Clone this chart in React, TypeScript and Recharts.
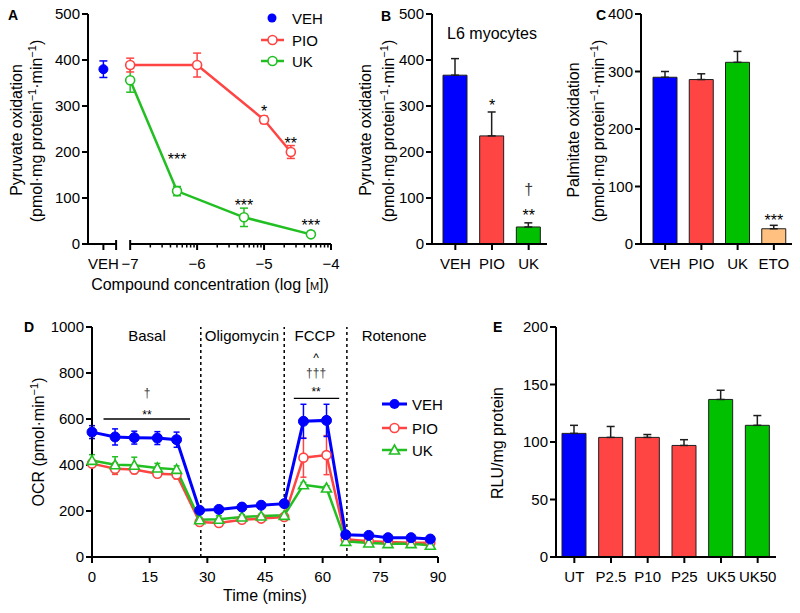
import React from 'react';
import { ComposedChart, Line, Bar, XAxis, YAxis, ErrorBar, ReferenceLine, Cell } from 'recharts';

const FONT = '"Liberation Sans", Arial, Helvetica, sans-serif';
const BLUE = '#0000FF';
const RED = '#FF4444';
const GREEN = '#00C000';
const LGREEN = '#22BF22';
const ORANGE = '#FFC080';
const EDGE = '#1E1E1E';

// ---------- Panel A ----------
const A_VEH_X = [-7.4];
const A_VEH_Y = [380];
const A_VEH_ERR = [18];
const A_PIO_X = [-7, -6, -5, -4.6];
const A_PIO_Y = [389, 389, 270, 200];
const A_PIO_ERR = [15, 26, 8, 14];
const A_UK_X = [-7, -6.3, -5.3, -4.3];
const A_UK_Y = [356, 115, 58, 21];
const A_UK_ERR = [26, 10, 20, 3];
const A_SIG_X = [-5, -4.6, -6.3, -5.3, -4.3];
const A_SIG_Y = [297, 226, 192, 92, 49];
const A_SIG_TEXT = ['*', '**', '***', '***', '***'];
const A_Y_TICKS = [0, 100, 200, 300, 400, 500];
const A_X_MAJOR = [-7, -6, -5, -4];
const A_X_MAJOR_LABELS = ['−7', '−6', '−5', '−4'];
const A_VEH_TICK_LABEL = 'VEH';
const A_X_DOMAIN = [-7.63, -4];
const A_BREAK = [-7.21, -7];
const A_X_MINOR = [-7, -6, -5].flatMap((d) => [2, 3, 4, 5, 6, 7, 8, 9].map((k) => d + Math.log10(k)));
const A_TICKS = [A_VEH_X[0], A_BREAK[0], ...A_X_MAJOR, ...A_X_MINOR].sort((a, b) => a - b);

// ---------- Panel B ----------
const B_CATS = ['VEH', 'PIO', 'UK'];
const B_VALUES = [367, 235, 37];
const B_ERR = [36, 52, 9];
const B_COLORS = [BLUE, RED, GREEN];
const B_SIG1 = ['', '*', '**'];
const B_SIG1_Y = [null, 309, 70];
const B_SIG2 = ['', '', '†'];
const B_SIG2_Y = [null, null, 117];

// ---------- Panel C ----------
const C_CATS = ['VEH', 'PIO', 'UK', 'ETO'];
const C_VALUES = [290, 286, 316, 26.5];
const C_ERR = [10, 10, 19, 6];
const C_COLORS = [BLUE, RED, GREEN, ORANGE];
const C_SIG = ['', '', '', '***'];
const C_SIG_Y = [null, null, null, 47];

// ---------- Panel D ----------
const D_TIME = [0, 6, 11, 17, 22, 28, 33, 39, 44, 50, 55, 61, 66, 72, 77, 83, 88];
const D_VEH = [543, 522, 519, 517, 510, 203, 207, 217, 225, 232, 590, 594, 97, 94, 84, 84, 78];
const D_VEH_ERR = [28, 35, 28, 28, 33, 10, 8, 8, 8, 10, 74, 70, 8, 8, 6, 6, 6];
const D_PIO = [406, 384, 380, 362, 359, 152, 148, 162, 167, 174, 432, 443, 77, 68, 65, 62, 62];
const D_PIO_ERR = [15, 25, 18, 15, 20, 8, 8, 8, 8, 8, 85, 85, 6, 6, 6, 6, 6];
const D_UK = [420, 401, 399, 387, 381, 162, 164, 174, 178, 181, 314, 300, 68, 61, 58, 58, 51];
const D_UK_ERR = [25, 35, 35, 20, 15, 10, 15, 10, 8, 8, 10, 10, 6, 6, 6, 6, 6];
const D_X_TICKS = [0, 15, 30, 45, 60, 75, 90];
const D_Y_TICKS = [0, 200, 400, 600, 800, 1000];
const D_STAGE_LINES = [28.3, 50, 66.3];
const D_PHASES = ['Basal', 'Oligomycin', 'FCCP', 'Rotenone'];
const D_PHASE_X = [14.3, 39, 58, 78.6];
const D_PHASE_Y = [961, 961, 961, 961];
const D_BAR_X1 = [3, 52.5];
const D_BAR_X2 = [25.5, 64.3];
const D_BAR_Y = [600, 690];
const D_SIG_X = [14.3, 14.3, 58.3, 58.3, 58.3];
const D_SIG_Y = [630, 713, 730, 800, 872];
const D_SIG_TEXT = ['**', '†', '**', '†††', '^'];

// ---------- Panel E ----------
const E_CATS = ['UT', 'P2.5', 'P10', 'P25', 'UK5', 'UK50'];
const E_VALUES = [107.5, 104, 104, 97, 137, 114.5];
const E_ERR = [7, 9.5, 2.5, 5, 8, 8.5];
const E_COLORS = [BLUE, RED, RED, RED, GREEN, GREEN];
const E_Y_TICKS = [0, 50, 100, 150, 200];

// ---------- tables ----------
const pts = (xs: number[], ys: number[], es: number[]) => xs.map((x, i) => ({ x, y: ys[i], err: es[i] }));
const aVeh = pts(A_VEH_X, A_VEH_Y, A_VEH_ERR);
const aPio = pts(A_PIO_X, A_PIO_Y, A_PIO_ERR);
const aUk = pts(A_UK_X, A_UK_Y, A_UK_ERR);
const aSig = A_SIG_X.map((x, i) => ({ x, y: A_SIG_Y[i], t: A_SIG_TEXT[i] }));
const bData = B_CATS.map((name, i) => ({ name, v: B_VALUES[i], e: [0, B_ERR[i]], s1: B_SIG1[i], s1y: B_SIG1_Y[i], s2: B_SIG2[i], s2y: B_SIG2_Y[i] }));
const cData = C_CATS.map((name, i) => ({ name, v: C_VALUES[i], e: [0, C_ERR[i]], s1: C_SIG[i], s1y: C_SIG_Y[i] }));
const eData = E_CATS.map((name, i) => ({ name, v: E_VALUES[i], e: [0, E_ERR[i]] }));
const dVeh = pts(D_TIME, D_VEH, D_VEH_ERR);
const dPio = pts(D_TIME, D_PIO, D_PIO_ERR);
const dUk = pts(D_TIME, D_UK, D_UK_ERR);
const dPhase = D_PHASES.map((t, i) => ({ x: D_PHASE_X[i], y: D_PHASE_Y[i], t }));
const dSig = D_SIG_X.map((x, i) => ({ x, y: D_SIG_Y[i], t: D_SIG_TEXT[i] }));

// ---------- helpers ----------
const AX = { stroke: '#000', strokeWidth: 2 };
const TICK = { fill: '#000', fontSize: 15, fontFamily: FONT };
const GLYPH_MID: Record<string, number> = { '*': 0.57, '†': 0.3, '^': 0.5 };

function textDot(fontSize: number, key: string) {
  return (p: any) => {
    const { cx, cy, payload, index } = p;
    const t = payload ? payload[key] : '';
    if (!t || cx == null || cy == null || isNaN(cy)) return <g key={`t${index}`} />;
    const mid = GLYPH_MID[t[0]] ?? 0.36;
    const color = t[0] === '†' ? '#3a3a3a' : '#000';
    return (
      <text key={`t${index}`} x={cx} y={cy + mid * fontSize} textAnchor="middle" fontSize={fontSize} fontFamily={FONT} fill={color}>
        {t}
      </text>
    );
  };
}

const openCircle = (color: string, r: number) => (p: any) =>
  p.cx == null ? <g key={`o${p.index}`} /> : <circle key={`o${p.index}`} cx={p.cx} cy={p.cy} r={r} fill="#fff" stroke={color} strokeWidth={1.6} />;
const filledCircle = (color: string, r: number) => (p: any) =>
  p.cx == null ? <g key={`f${p.index}`} /> : <circle key={`f${p.index}`} cx={p.cx} cy={p.cy} r={r} fill={color} stroke={color} strokeWidth={1} />;
const openTriangle = (color: string) => (p: any) =>
  p.cx == null ? (
    <g key={`tr${p.index}`} />
  ) : (
    <polygon
      key={`tr${p.index}`}
      points={`${p.cx},${p.cy - 5} ${p.cx - 5},${p.cy + 4} ${p.cx + 5},${p.cy + 4}`}
      fill="#fff"
      stroke={color}
      strokeWidth={1.6}
    />
  );

function AXTick(props: any) {
  const { x, y, payload } = props;
  const v = payload.value;
  const mi = A_X_MAJOR.indexOf(v);
  const isVeh = v === A_VEH_X[0];
  const isBreak = A_BREAK.includes(v);
  const label = mi >= 0 ? A_X_MAJOR_LABELS[mi] : isVeh ? A_VEH_TICK_LABEL : '';
  const len = mi >= 0 || isVeh || isBreak ? 6 : 3.5;
  const top = isBreak ? -4 : 0;
  return (
    <g>
      <line x1={x} x2={x} y1={y + top} y2={y + len} stroke="#000" strokeWidth={mi >= 0 || isVeh || isBreak ? 2 : 1.5} />
      {label ? (
        <text x={x} y={y + 25} textAnchor="middle" fontSize={15} fontFamily={FONT} fill="#000">
          {label}
        </text>
      ) : null}
    </g>
  );
}

function RotLabel({ cx, cy, children, size = 16 }: any) {
  const bx = cx + size * 0.35;
  return (
    <text x={bx} y={cy} transform={`rotate(-90, ${bx}, ${cy})`} textAnchor="middle" fontSize={size} fontFamily={FONT} fill="#000">
      {children}
    </text>
  );
}

const unitLine = (
  <>
    (pmol·mg protein<tspan dy={-6} fontSize={11}>−1</tspan>
    <tspan dy={6}>·min</tspan>
    <tspan dy={-6} fontSize={11}>−1</tspan>
    <tspan dy={6}>)</tspan>
  </>
);

function Overlay() {
  const L = { fontSize: 15, fontFamily: FONT, fill: '#000' };
  const letter = { fontSize: 14, fontFamily: FONT, fontWeight: 700, fill: '#000' };
  return (
    <svg width={800} height={613} style={{ position: 'absolute', left: 0, top: 0, pointerEvents: 'none' }}>
      {/* panel letters */}
      <text x={8} y={20} {...letter}>A</text>
      <text x={381} y={21} {...letter}>B</text>
      <text x={596} y={20} {...letter}>C</text>
      <text x={24} y={332} {...letter}>D</text>
      <text x={493} y={332} {...letter}>E</text>

      {/* A titles */}
      <RotLabel cx={16} cy={130}>Pyruvate oxidation</RotLabel>
      <RotLabel cx={36} cy={131}>{unitLine}</RotLabel>
      <text x={210} y={290} textAnchor="middle" fontSize={16} fontFamily={FONT} fill="#000">
        Compound concentration (log [<tspan fontSize={11}>M</tspan>])
      </text>
      {/* A legend */}
      <circle cx={272} cy={18} r={4.5} fill={BLUE} />
      <text x={292} y={24} {...L}>VEH</text>
      <line x1={261} x2={284} y1={40} y2={40} stroke={RED} strokeWidth={2.5} />
      <circle cx={272.5} cy={40} r={4.5} fill="#fff" stroke={RED} strokeWidth={1.6} />
      <text x={292} y={46} {...L}>PIO</text>
      <line x1={261} x2={284} y1={61} y2={61} stroke={LGREEN} strokeWidth={2.5} />
      <circle cx={272.5} cy={61} r={4.5} fill="#fff" stroke={LGREEN} strokeWidth={1.6} />
      <text x={292} y={67} {...L}>UK</text>

      {/* B titles */}
      <RotLabel cx={365} cy={130}>Pyruvate oxidation</RotLabel>
      <RotLabel cx={388} cy={131}>{unitLine}</RotLabel>
      <text x={492} y={39} textAnchor="middle" fontSize={16} fontFamily={FONT} fill="#000">L6 myocytes</text>

      {/* C titles */}
      <RotLabel cx={573} cy={130}>Palmitate oxidation</RotLabel>
      <RotLabel cx={598} cy={131}>{unitLine}</RotLabel>

      {/* D titles */}
      <RotLabel cx={38} cy={442}>
        OCR (pmol·min<tspan dy={-6} fontSize={11}>−1</tspan>
        <tspan dy={6}>)</tspan>
      </RotLabel>
      <text x={265} y={601} textAnchor="middle" fontSize={16} fontFamily={FONT} fill="#000">Time (mins)</text>
      {/* D legend */}
      <line x1={382} x2={407} y1={404} y2={404} stroke={BLUE} strokeWidth={3} />
      <circle cx={394.5} cy={404} r={5} fill={BLUE} />
      <text x={412} y={410} {...L}>VEH</text>
      <line x1={382} x2={407} y1={428} y2={428} stroke={RED} strokeWidth={2.5} />
      <circle cx={394.5} cy={428} r={4.5} fill="#fff" stroke={RED} strokeWidth={1.6} />
      <text x={412} y={434} {...L}>PIO</text>
      <line x1={382} x2={407} y1={450} y2={450} stroke={LGREEN} strokeWidth={2.5} />
      <polygon points="394.5,445 389.5,454 399.5,454" fill="#fff" stroke={LGREEN} strokeWidth={1.6} />
      <text x={412} y={456} {...L}>UK</text>

      {/* E title */}
      <RotLabel cx={497} cy={443}>RLU/mg protein</RotLabel>
    </svg>
  );
}

function BarPanel({ data, cats, colors, width, height, margin, domain, ticks, padding, sigs }: any) {
  return (
    <ComposedChart width={width} height={height} data={data} margin={margin}>
      <XAxis
        dataKey="name"
        type="category"
        interval={0}
        tick={TICK}
        tickLine={AX}
        axisLine={AX}
        tickSize={6}
        tickMargin={8}
        height={46}
        padding={padding}
      />
      <YAxis type="number" domain={domain} ticks={ticks} interval={0} width={40} tick={TICK} tickLine={AX} axisLine={AX} tickSize={6} tickMargin={2} />
      <Bar dataKey="v" barSize={24} stroke={EDGE} strokeWidth={1} isAnimationActive={false}>
        {cats.map((c: string, i: number) => (
          <Cell key={c} fill={colors[i]} />
        ))}
        <ErrorBar dataKey="e" width={4} stroke={EDGE} strokeWidth={1.5} direction="y" />
      </Bar>
      {sigs.map((s: string) => (
        <Line key={s} dataKey={`${s}y`} stroke="none" dot={textDot(16, s)} activeDot={false} isAnimationActive={false} legendType="none" />
      ))}
    </ComposedChart>
  );
}

export default function App() {
  return (
    <div style={{ position: 'absolute', left: 0, top: 0, width: 800, height: 613, background: '#fff', overflow: 'hidden' }}>
      {/* Panel A */}
      <div style={{ position: 'absolute', left: 0, top: 0 }}>
        <ComposedChart width={360} height={290} margin={{ top: 14, right: 29, bottom: 0, left: 48 }}>
          <XAxis
            type="number"
            dataKey="x"
            domain={A_X_DOMAIN}
            ticks={A_TICKS}
            interval={0}
            tick={AXTick}
            tickLine={false}
            axisLine={false}
            tickSize={0}
            tickMargin={0}
            height={46}
            allowDataOverflow
          />
          <YAxis type="number" domain={[0, 500]} ticks={A_Y_TICKS} interval={0} width={40} tick={TICK} tickLine={AX} axisLine={AX} tickSize={6} tickMargin={2} />
          <ReferenceLine segment={[{ x: A_X_DOMAIN[0], y: 0 }, { x: A_BREAK[0], y: 0 }]} stroke="#000" strokeWidth={2} />
          <ReferenceLine segment={[{ x: A_BREAK[1], y: 0 }, { x: A_X_DOMAIN[1], y: 0 }]} stroke="#000" strokeWidth={2} />
          <Line data={aUk} dataKey="y" stroke={LGREEN} strokeWidth={2.5} dot={openCircle(LGREEN, 4.5)} activeDot={false} isAnimationActive={false}>
            <ErrorBar dataKey="err" width={4} stroke={LGREEN} strokeWidth={1.5} direction="y" />
          </Line>
          <Line data={aPio} dataKey="y" stroke={RED} strokeWidth={2.5} dot={openCircle(RED, 4.5)} activeDot={false} isAnimationActive={false}>
            <ErrorBar dataKey="err" width={4} stroke={RED} strokeWidth={1.5} direction="y" />
          </Line>
          <Line data={aVeh} dataKey="y" stroke="none" dot={filledCircle(BLUE, 4.5)} activeDot={false} isAnimationActive={false}>
            <ErrorBar dataKey="err" width={4} stroke={BLUE} strokeWidth={1.5} direction="y" />
          </Line>
          <Line data={aSig} dataKey="y" stroke="none" dot={textDot(16, 't')} activeDot={false} isAnimationActive={false} legendType="none" />
        </ComposedChart>
      </div>

      {/* Panel B */}
      <div style={{ position: 'absolute', left: 360, top: 0 }}>
        <BarPanel
          data={bData}
          cats={B_CATS}
          colors={B_COLORS}
          width={200}
          height={290}
          margin={{ top: 14, right: 13, bottom: 0, left: 32 }}
          domain={[0, 500]}
          ticks={A_Y_TICKS}
          padding={{ left: 5, right: 0 }}
          sigs={['s1', 's2']}
        />
      </div>

      {/* Panel C */}
      <div style={{ position: 'absolute', left: 560, top: 0 }}>
        <BarPanel
          data={cData}
          cats={C_CATS}
          colors={C_COLORS}
          width={240}
          height={290}
          margin={{ top: 14, right: 8, bottom: 0, left: 41 }}
          domain={[0, 400]}
          ticks={[0, 100, 200, 300, 400]}
          padding={{ left: 6, right: 0 }}
          sigs={['s1']}
        />
      </div>

      {/* Panel D */}
      <div style={{ position: 'absolute', left: 0, top: 295 }}>
        <ComposedChart width={480} height={318} margin={{ top: 32, right: 42, bottom: 0, left: 52 }}>
          <XAxis type="number" dataKey="x" domain={[0, 90]} ticks={D_X_TICKS} interval={0} tick={TICK} tickLine={AX} axisLine={AX} tickSize={6} tickMargin={8} height={56} />
          <YAxis type="number" domain={[0, 1000]} ticks={D_Y_TICKS} interval={0} width={40} tick={TICK} tickLine={AX} axisLine={AX} tickSize={6} tickMargin={2} />
          {D_STAGE_LINES.map((x) => (
            <ReferenceLine key={x} x={x} stroke="#000" strokeWidth={1.5} strokeDasharray="3 3" />
          ))}
          {D_BAR_Y.map((y, i) => (
            <ReferenceLine key={`b${i}`} segment={[{ x: D_BAR_X1[i], y }, { x: D_BAR_X2[i], y }]} stroke="#000" strokeWidth={1.3} />
          ))}
          <Line data={dPio} dataKey="y" stroke={RED} strokeWidth={2.5} dot={openCircle(RED, 4.5)} activeDot={false} isAnimationActive={false}>
            <ErrorBar dataKey="err" width={3} stroke={RED} strokeWidth={1.5} direction="y" />
          </Line>
          <Line data={dUk} dataKey="y" stroke={LGREEN} strokeWidth={2.5} dot={openTriangle(LGREEN)} activeDot={false} isAnimationActive={false}>
            <ErrorBar dataKey="err" width={3} stroke={LGREEN} strokeWidth={1.5} direction="y" />
          </Line>
          <Line data={dVeh} dataKey="y" stroke={BLUE} strokeWidth={3} dot={filledCircle(BLUE, 5)} activeDot={false} isAnimationActive={false}>
            <ErrorBar dataKey="err" width={3} stroke={BLUE} strokeWidth={1.5} direction="y" />
          </Line>
          <Line data={dPhase} dataKey="y" stroke="none" dot={textDot(15, 't')} activeDot={false} isAnimationActive={false} legendType="none" />
          <Line data={dSig} dataKey="y" stroke="none" dot={textDot(12, 't')} activeDot={false} isAnimationActive={false} legendType="none" />
        </ComposedChart>
      </div>

      {/* Panel E */}
      <div style={{ position: 'absolute', left: 500, top: 295 }}>
        <ComposedChart width={300} height={318} data={eData} margin={{ top: 32, right: 24, bottom: 0, left: 16 }}>
          <XAxis dataKey="name" type="category" interval={0} tick={TICK} tickLine={AX} axisLine={AX} tickSize={6} tickMargin={8} height={56} />
          <YAxis type="number" domain={[0, 200]} ticks={E_Y_TICKS} interval={0} width={40} tick={TICK} tickLine={AX} axisLine={AX} tickSize={6} tickMargin={2} />
          <Bar dataKey="v" barSize={24} stroke={EDGE} strokeWidth={1} isAnimationActive={false}>
            {E_CATS.map((c, i) => (
              <Cell key={c} fill={E_COLORS[i]} />
            ))}
            <ErrorBar dataKey="e" width={4} stroke={EDGE} strokeWidth={1.5} direction="y" />
          </Bar>
        </ComposedChart>
      </div>

      <Overlay />
    </div>
  );
}
